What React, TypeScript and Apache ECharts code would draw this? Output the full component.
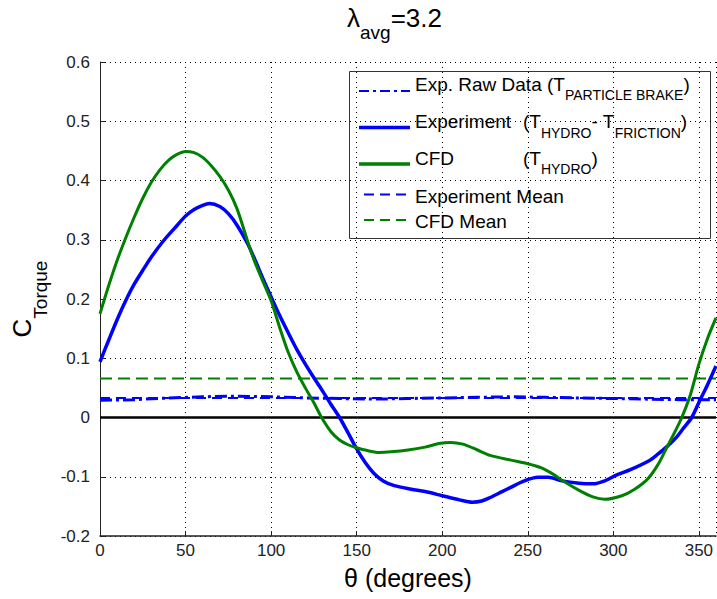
import React, { useEffect, useRef } from "react";
import * as echarts from "echarts";

const FONT = "'Liberation Sans', Arial, Helvetica, sans-serif";

const thetaCFD = [0, 5, 10, 15, 20, 25, 30, 35, 40, 45, 50, 55, 60, 65, 70, 75, 80, 86, 90, 95, 100, 105, 110, 115, 120, 125, 129.5, 135, 140, 145, 150, 155, 163, 170, 180, 190, 198, 205, 212, 220, 228, 240, 250, 258, 265, 270, 280, 288, 295, 305, 312, 320, 326, 331, 336, 340, 345, 350, 355, 360];
const cfdValues = [0.175, 0.222, 0.265, 0.303, 0.338, 0.37, 0.397, 0.418, 0.434, 0.444, 0.449, 0.447, 0.439, 0.425, 0.407, 0.384, 0.353, 0.30, 0.266, 0.231, 0.197, 0.152, 0.11, 0.077, 0.05, 0.025, 0, -0.024, -0.038, -0.046, -0.051, -0.055, -0.059, -0.058, -0.055, -0.05, -0.044, -0.042, -0.045, -0.054, -0.064, -0.072, -0.078, -0.085, -0.096, -0.106, -0.123, -0.134, -0.138, -0.132, -0.122, -0.104, -0.08, -0.052, -0.024, 0, 0.038, 0.09, 0.133, 0.168];

const thetaExp = [0, 5, 10, 15, 20, 26, 30, 37.6, 45, 50, 55, 60, 64, 70, 75, 80, 86, 90, 95, 101, 105, 110, 115, 120, 125, 130, 135, 140, 145, 150, 155, 160, 165.5, 172, 182, 190, 200, 210, 217.6, 223, 228, 235, 240, 248, 256, 262, 270, 280, 288, 295, 302, 310, 321.4, 326, 331, 337, 341, 345.8, 350.6, 355, 360];
const expValues = [0.094, 0.13, 0.165, 0.197, 0.225, 0.253, 0.271, 0.30, 0.324, 0.34, 0.351, 0.358, 0.361, 0.356, 0.344, 0.325, 0.295, 0.27, 0.236, 0.197, 0.172, 0.143, 0.115, 0.09, 0.067, 0.045, 0.022, 0, -0.026, -0.053, -0.076, -0.094, -0.107, -0.115, -0.121, -0.125, -0.132, -0.139, -0.143, -0.141, -0.135, -0.125, -0.118, -0.107, -0.101, -0.101, -0.107, -0.111, -0.112, -0.107, -0.097, -0.088, -0.072, -0.062, -0.05, -0.033, -0.018, 0, 0.029, 0.055, 0.087];

const thetaRaw = [0, 20, 40, 60, 80, 100, 120, 140, 160, 180, 200, 220, 240, 260, 280, 300, 320, 340, 360];
const rawValues = [0.029, 0.030, 0.033, 0.035, 0.036, 0.035, 0.033, 0.032, 0.031, 0.032, 0.033, 0.034, 0.035, 0.034, 0.033, 0.032, 0.031, 0.030, 0.030];

const meanTheta = [0, 360];
const expMean = [0.033, 0.033];
const cfdMean = [0.066, 0.066];
const zeroLine = [0, 0];

const xTicks = [0, 50, 100, 150, 200, 250, 300, 350];

const BLUE = "#0000ff";
const GREEN = "#008000";

const pairs = (xs: number[], ys: number[]) => xs.map((x, i) => [x, ys[i]]);

const legendRich = {
  m: { fontSize: 19, fontFamily: FONT, color: "#000", lineHeight: 21, padding: [0, 0, 8, 0] },
  w: { fontSize: 19, fontFamily: FONT, color: "#000", lineHeight: 21, padding: [0, 0, 8, 0], width: 108 },
  s: { fontSize: 14, fontFamily: FONT, color: "#000", lineHeight: 15, padding: [14, 0, 0, 0] },
};

export default function App() {
  const ref = useRef<HTMLDivElement>(null);
  useEffect(() => {
    if (!ref.current) return;
    const chart = echarts.init(ref.current, null, { renderer: "svg" });
    const gridLine = { show: true, lineStyle: { type: [1, 4], color: "#000", width: 1 } };
    const option: any = {
      animation: false,
      backgroundColor: "#fff",
      title: {
        text: "{m|λ}{s|avg}{m|=3.2}",
        left: 347,
        top: 9,
        padding: 0,
        textStyle: {
          fontWeight: "normal",
          rich: {
            m: { fontSize: 26, fontFamily: FONT, color: "#000", lineHeight: 28, padding: [0, 0, 10, 0] },
            s: { fontSize: 19, fontFamily: FONT, color: "#000", lineHeight: 19, padding: [19, 0, 0, 0] },
          },
        },
      },
      grid: { left: 100, right: 1, top: 62, bottom: 63 },
      xAxis: {
        type: "value",
        min: 0,
        max: 360,
        interval: 50,
        name: "θ (degrees)",
        nameLocation: "middle",
        nameGap: 29,
        nameTextStyle: { fontSize: 25, fontFamily: FONT, color: "#000" },
        axisLine: { onZero: false, lineStyle: { color: "#222", width: 1.5 } },
        axisTick: { inside: true, length: 5, lineStyle: { color: "#222" } },
        axisLabel: {
          fontSize: 17,
          fontFamily: FONT,
          color: "#222",
          margin: 6,
          showMaxLabel: false,
          formatter: (v: number) => (xTicks.includes(v) ? String(v) : ""),
        },
        splitLine: gridLine,
      },
      yAxis: {
        type: "value",
        min: -0.2,
        max: 0.6,
        interval: 0.1,
        name: "{m|C}{s|Torque}",
        nameLocation: "middle",
        nameRotate: 90,
        nameGap: 49,
        nameTextStyle: {
          rich: {
            m: { fontSize: 26, fontFamily: FONT, color: "#000", lineHeight: 27, padding: [0, 0, 14, 0] },
            s: { fontSize: 19, fontFamily: FONT, color: "#000", lineHeight: 19, padding: [22, 0, 0, 0] },
          },
        },
        axisLine: { onZero: false, show: true, lineStyle: { color: "#222", width: 1 } },
        axisTick: { show: true, inside: true, length: 5, lineStyle: { color: "#222" } },
        axisLabel: {
          fontSize: 17,
          fontFamily: FONT,
          color: "#222",
          margin: 10,
          formatter: (v: number) => String(parseFloat(v.toFixed(1))),
        },
        splitLine: gridLine,
      },
      series: [
        {
          name: "Exp. Raw Data",
          type: "line",
          symbol: "none",
          data: pairs(thetaRaw, rawValues),
          lineStyle: { color: BLUE, width: 3, type: [12, 4, 3, 4] },
          z: 3,
        },
        {
          name: "Experiment",
          type: "line",
          symbol: "none",
          smooth: 0.3,
          data: pairs(thetaExp, expValues),
          lineStyle: { color: BLUE, width: 3.5 },
          z: 4,
        },
        {
          name: "CFD",
          type: "line",
          symbol: "none",
          smooth: 0.3,
          data: pairs(thetaCFD, cfdValues),
          lineStyle: { color: GREEN, width: 3 },
          z: 5,
        },
        {
          name: "Experiment Mean",
          type: "line",
          symbol: "none",
          data: pairs(meanTheta, expMean),
          lineStyle: { color: BLUE, width: 2, type: [10, 6] },
          z: 3,
        },
        {
          name: "CFD Mean",
          type: "line",
          symbol: "none",
          data: pairs(meanTheta, cfdMean),
          lineStyle: { color: GREEN, width: 2, type: [12, 6] },
          z: 3,
        },
        {
          name: "zero",
          type: "line",
          symbol: "none",
          data: pairs(meanTheta, zeroLine),
          lineStyle: { color: "#000", width: 2.5 },
          z: 2,
        },
      ],
      graphic: [
        {
          type: "group",
          z: 100,
          children: [
            { type: "rect", shape: { x: 349.5, y: 71.5, width: 361, height: 167 }, style: { fill: "#fff", stroke: "#333", lineWidth: 1 } },
            { type: "line", shape: { x1: 359, y1: 91, x2: 410, y2: 91 }, style: { stroke: BLUE, lineWidth: 2, lineDash: [10, 4, 3, 4] } },
            { type: "line", shape: { x1: 359, y1: 127.5, x2: 410, y2: 127.5 }, style: { stroke: BLUE, lineWidth: 3.5 } },
            { type: "line", shape: { x1: 359, y1: 164, x2: 410, y2: 164 }, style: { stroke: GREEN, lineWidth: 3.5 } },
            { type: "line", shape: { x1: 364, y1: 194.5, x2: 410, y2: 194.5 }, style: { stroke: BLUE, lineWidth: 2, lineDash: [10, 6] } },
            { type: "line", shape: { x1: 364, y1: 220, x2: 410, y2: 220 }, style: { stroke: GREEN, lineWidth: 2, lineDash: [10, 6] } },
            { type: "text", x: 415, y: 77.8, style: { text: "{m|Exp. Raw Data (T}{s|PARTICLE BRAKE}{m|)}", rich: legendRich, verticalAlign: "top" } },
            { type: "text", x: 415, y: 115.2, style: { text: "{w|Experiment}{m|(T}{s|HYDRO}{m|- T}{s|FRICTION}{m|)}", rich: legendRich, verticalAlign: "top" } },
            { type: "text", x: 415, y: 151.8, style: { text: "{w|CFD}{m|(T}{s|HYDRO}{m|)}", rich: legendRich, verticalAlign: "top" } },
            { type: "text", x: 415, y: 196.5, style: { text: "Experiment Mean", fontSize: 19, fontFamily: FONT, fill: "#000", verticalAlign: "middle" } },
            { type: "text", x: 415, y: 221, style: { text: "CFD Mean", fontSize: 19, fontFamily: FONT, fill: "#000", verticalAlign: "middle" } },
          ],
        },
      ],
    };
    chart.setOption(option);
    return () => chart.dispose();
  }, []);
  return <div ref={ref} style={{ width: 717, height: 599, position: "absolute", left: 0, top: 0 }} />;
}
